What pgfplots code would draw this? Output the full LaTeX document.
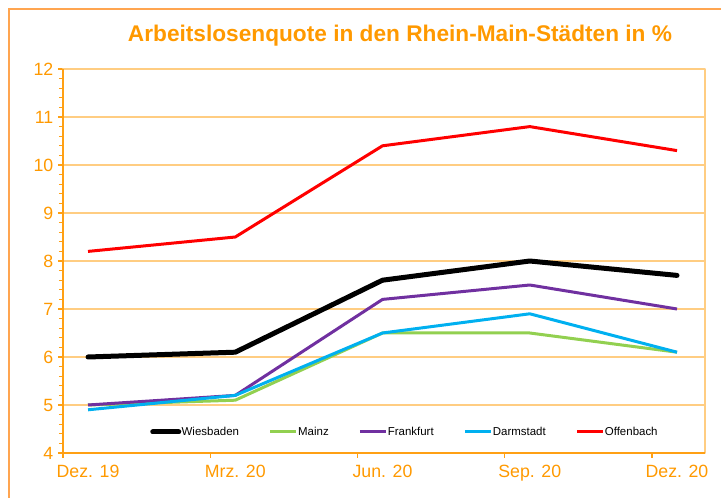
\documentclass[border=0pt]{standalone}
\usepackage{pgfplots}
\pgfplotsset{compat=1.18}
\usepackage{fontspec}
\setmainfont{Liberation Sans}
\definecolor{otext}{RGB}{255,153,0}
\definecolor{oaxis}{RGB}{255,160,20}
\definecolor{ogrid}{RGB}{255,205,130}
\definecolor{oframe}{RGB}{255,165,80}
\definecolor{cMainz}{RGB}{146,208,80}
\definecolor{cFrankfurt}{RGB}{112,48,160}
\definecolor{cDarmstadt}{RGB}{0,176,240}
\definecolor{cOffenbach}{RGB}{255,0,0}
\begin{document}
\begin{tikzpicture}
\useasboundingbox (0,0) rectangle (540.75pt,373.5pt);
\draw[oframe, line width=1.1pt] (6.75pt,-10pt) -- (6.75pt,366.75pt) -- (560pt,366.75pt);
\node[font=\fontsize{17}{20}\selectfont\bfseries, text=otext] at (300pt,346.5pt) {Arbeitslosenquote in den Rhein-Main-Städten in \%};
\begin{axis}[
  name=ax,
  at={(47.25pt,33.75pt)}, anchor=south west,
  scale only axis, width=481.5pt, height=288pt,
  xmin=-0.17, xmax=4.19, ymin=4, ymax=12,
  xtick={-0.17,0.83,1.83,2.83,3.83},
  xticklabels={Dez. 19,Mrz. 20,Jun. 20,Sep. 20,Dez. 20},
  xticklabel style={xshift=18.75pt, yshift=-2pt},
  ytick={4,5,...,12},
  minor y tick num=4,
  tick pos=left,
  tick align=outside,
  major tick length=3.75pt,
  minor tick length=3pt,
  every tick/.style={draw=oaxis, line width=0.8pt},
  ymajorgrids,
  grid style={draw=ogrid, line width=0.8pt},
  axis line style={draw=ogrid, line width=1pt},
  ticklabel style={font=\fontsize{13.3}{15}\selectfont, text=otext},
  /pgf/number format/assume math mode=true,
  legend columns=5,
  legend style={at={(0.1355,0.0547)}, anchor=west, draw=none, fill=none,
    font=\fontsize{8.6}{10}\selectfont, inner sep=0pt,
    nodes={inner sep=0.3pt},
    /tikz/every even column/.append style={column sep=22pt}},
  legend image code/.code={\draw[#1] (0pt,0pt) -- (19.5pt,0pt);},
  line join=round,
]
\addplot[black, line width=3.75pt, line cap=round] coordinates {(0,6.0) (1,6.1) (2,7.6) (3,8.0) (4,7.7)};
\addlegendentry{Wiesbaden}
\addplot[cMainz, line width=2.25pt] coordinates {(0,5.0) (1,5.1) (2,6.5) (3,6.5) (4,6.1)};
\addlegendentry{Mainz}
\addplot[cFrankfurt, line width=2.25pt] coordinates {(0,5.0) (1,5.2) (2,7.2) (3,7.5) (4,7.0)};
\addlegendentry{Frankfurt}
\addplot[cDarmstadt, line width=2.25pt] coordinates {(0,4.9) (1,5.2) (2,6.5) (3,6.9) (4,6.1)};
\addlegendentry{Darmstadt}
\addplot[cOffenbach, line width=2.25pt] coordinates {(0,8.2) (1,8.5) (2,10.4) (3,10.8) (4,10.3)};
\addlegendentry{Offenbach}
\end{axis}
\draw[oaxis, line width=1pt] (ax.north west) -- (ax.south west) -- (ax.south east);
\end{tikzpicture}
\end{document}
